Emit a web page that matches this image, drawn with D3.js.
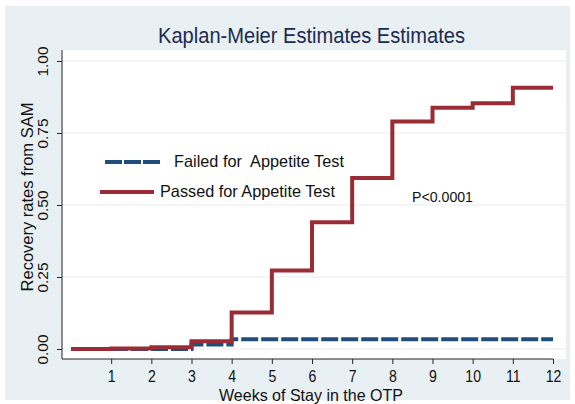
<!DOCTYPE html>
<html><head><meta charset="utf-8">
<script src="https://cdn.jsdelivr.net/npm/d3@7"></script>
<style>body{margin:0;background:#fff}svg{display:block}text{font-family:"Liberation Sans",Arial,sans-serif}</style>
</head><body>
<svg id="c" width="575" height="404"></svg>
<script>
const weeks = [0,1,2,3,4,5,6,7,8,9,10,11,12];
const passed = [0,0.002,0.006,0.027,0.127,0.273,0.44,0.594,0.79,0.838,0.853,0.907,0.907];
const failed = [0,0,0,0.016,0.034,0.034,0.034,0.034,0.034,0.034,0.034,0.034,0.034];
const xTicks = [1,2,3,4,5,6,7,8,9,10,11,12];
const yTicks = [0,0.25,0.5,0.75,1];
const seriesNames = ["Failed for  Appetite Test","Passed for Appetite Test"];
const titleText = "Kaplan-Meier Estimates Estimates";
const xTitle = "Weeks of Stay in the OTP";
const yTitle = "Recovery rates from SAM";
const pText = "P<0.0001";

const svg = d3.select("#c");
const red = "#9a2c35", blue = "#1f4d7c", ink = "#1b2a4e";
svg.append("rect").attr("x",5).attr("y",6).attr("width",565).attr("height",394).attr("fill","#e9f0f4");
svg.append("rect").attr("x",62).attr("y",50).attr("width",504).attr("height",309).attr("fill","#fff");

const x = d3.scaleLinear().domain([0,12]).range([71,553]);
const y = d3.scaleLinear().domain([0,1]).range([349,61]);

// gridlines
svg.append("g").selectAll("line").data(yTicks).join("line")
  .attr("x1",62).attr("x2",566).attr("y1",d=>y(d)).attr("y2",d=>y(d))
  .attr("stroke","#e8ecef").attr("stroke-width",1.2);

// axes
const xa = svg.append("g").attr("transform","translate(0,359)")
  .call(d3.axisBottom(x).tickValues(xTicks).tickSize(5).tickPadding(6).tickFormat(d3.format("d")));
xa.select(".domain").attr("d","M62,0H553").attr("stroke","#222");
xa.selectAll(".tick line").attr("stroke","#222");
xa.selectAll(".tick text").attr("font-size",16).attr("fill","#111").attr("dy",null).attr("y",23)
  .each(function(){const w=this.getComputedTextLength();d3.select(this).attr("textLength",w*0.88).attr("lengthAdjust","spacingAndGlyphs");});

const ya = svg.append("g").attr("transform","translate(62,0)")
  .call(d3.axisLeft(y).tickValues(yTicks).tickSize(5).tickFormat(d3.format(".2f")));
ya.select(".domain").attr("d","M0,50V359").attr("stroke","#222");
ya.selectAll(".tick line").attr("stroke","#222");
ya.selectAll(".tick text").attr("font-size",15.5).attr("fill","#111")
  .attr("text-anchor","middle").attr("dy",null).attr("x",null)
  .attr("transform","translate(-14,0) rotate(-90)");

// step lines
const line = d3.line().x(d=>x(d[0])).y(d=>y(d[1])).curve(d3.curveStepAfter);
svg.append("path").datum(weeks.map((w,i)=>[w,failed[i]]))
  .attr("d",line).attr("fill","none").attr("stroke",blue).attr("stroke-width",4)
  .attr("stroke-dasharray","17,3");
svg.append("path").datum(weeks.map((w,i)=>[w,passed[i]]))
  .attr("d",line).attr("fill","none").attr("stroke",red).attr("stroke-width",4);

// legend
svg.append("line").attr("x1",105).attr("x2",160).attr("y1",162).attr("y2",162)
  .attr("stroke",blue).attr("stroke-width",4).attr("stroke-dasharray","17,2");
svg.append("line").attr("x1",100).attr("x2",154).attr("y1",192).attr("y2",192)
  .attr("stroke",red).attr("stroke-width",4);
const fit=(sel,w)=>sel.attr("textLength",w).attr("lengthAdjust","spacingAndGlyphs");
fit(svg.append("text").attr("x",174).attr("y",167).attr("font-size",16.5).attr("fill","#111").attr("xml:space","preserve").text(seriesNames[0]),170);
fit(svg.append("text").attr("x",160).attr("y",197).attr("font-size",16.5).attr("fill","#111").text(seriesNames[1]),175);
fit(svg.append("text").attr("x",412).attr("y",202).attr("font-size",14.5).attr("fill","#111").text(pText),61);

// titles
fit(svg.append("text").attr("x",158).attr("y",43).attr("font-size",22).attr("fill",ink).text(titleText),307);
fit(svg.append("text").attr("x",219).attr("y",401).attr("font-size",16.5).attr("fill","#111").text(xTitle),184);
svg.append("text").attr("transform","translate(33,197) rotate(-90)").attr("text-anchor","middle")
  .attr("font-size",16.5).attr("fill","#111").text(yTitle);
</script>
</body></html>
